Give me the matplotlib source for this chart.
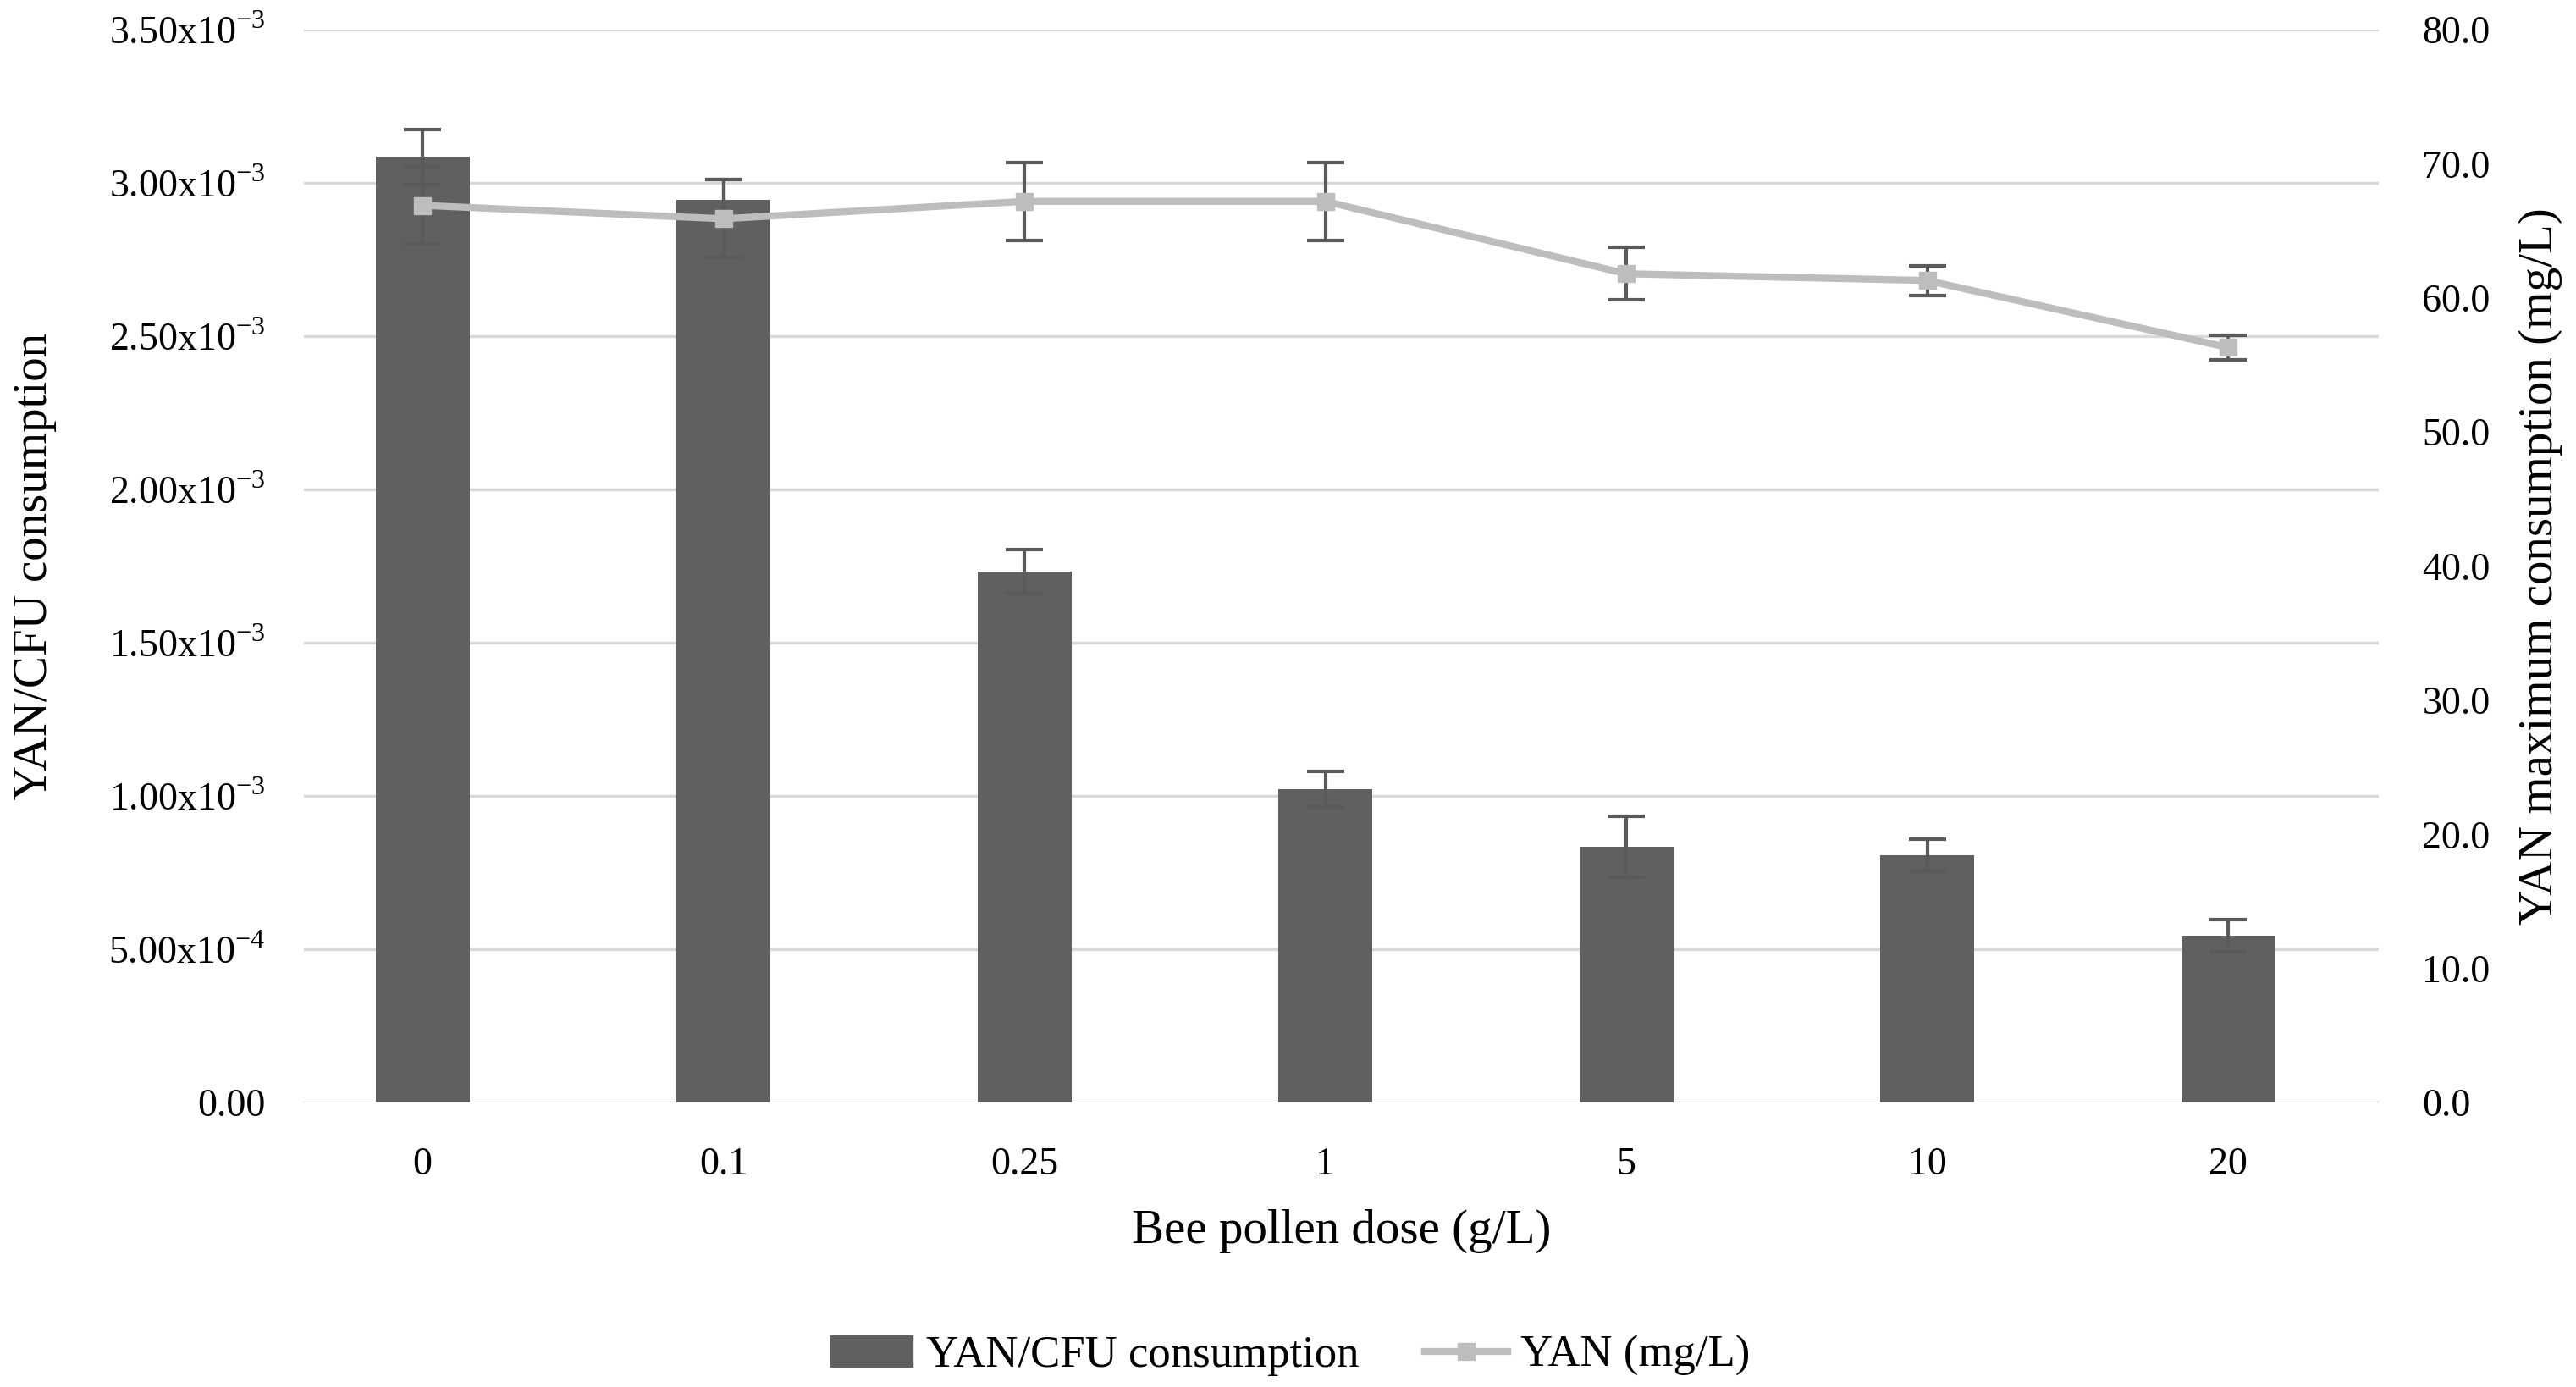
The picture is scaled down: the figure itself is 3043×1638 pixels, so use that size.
import numpy as np
import matplotlib.pyplot as plt
from matplotlib.lines import Line2D
from matplotlib.patches import Patch

plt.rcParams['font.family'] = ['Liberation Serif', 'DejaVu Serif']
plt.rcParams['mathtext.fontset'] = 'custom'
plt.rcParams['mathtext.rm'] = 'Liberation Serif'

# data
doses = ['0', '0.1', '0.25', '1', '5', '10', '20']
yan_cfu = [3.085e-3, 2.945e-3, 1.733e-3, 1.021e-3, 0.834e-3, 0.806e-3, 0.544e-3]
yan_cfu_err = [0.090e-3, 0.065e-3, 0.072e-3, 0.058e-3, 0.100e-3, 0.053e-3, 0.052e-3]
yan = [66.9, 65.9, 67.2, 67.2, 61.8, 61.3, 56.3]
yan_err = [2.9, 2.9, 2.9, 2.9, 1.95, 1.1, 0.9]

left_ticks = [0, 0.5e-3, 1.0e-3, 1.5e-3, 2.0e-3, 2.5e-3, 3.0e-3, 3.5e-3]
left_labels = ['0.00', r'5.00x10$^{-4}$', r'1.00x10$^{-3}$', r'1.50x10$^{-3}$',
               r'2.00x10$^{-3}$', r'2.50x10$^{-3}$', r'3.00x10$^{-3}$', r'3.50x10$^{-3}$']
right_ticks = [0, 10, 20, 30, 40, 50, 60, 70, 80]

bar_color = '#606060'
line_color = '#BDBDBD'
err_color = '#5A5A5A'
grid_color = '#D9D9D9'

fig = plt.figure(figsize=(30.43, 16.38), dpi=100)
ax = fig.add_axes([0.118, 0.2051, 0.8054, 0.7735])
x = np.arange(len(doses))

ax.bar(x, yan_cfu, width=0.313, color=bar_color, zorder=2,
       yerr=yan_cfu_err, error_kw=dict(ecolor=err_color, elinewidth=3, capsize=16, capthick=3))
ax.set_ylim(0, 3.5e-3)
ax.set_xlim(-0.394, 6.5)
ax.set_yticks(left_ticks)
ax.set_yticklabels(left_labels)
ax.set_xticks(x)
ax.set_xticklabels(doses)
ax.yaxis.grid(True, color=grid_color, linewidth=2.5)
ax.set_axisbelow(True)
ax.tick_params(length=0, labelsize=33, colors='black')
ax.tick_params(axis='x', pad=38)
ax.tick_params(axis='y', pad=33)
for s in ax.spines.values():
    s.set_visible(False)
ax.set_xlabel('Bee pollen dose (g/L)', fontsize=41, labelpad=22)
ax.set_ylabel('YAN/CFU consumption', fontsize=41, labelpad=44)

ax2 = ax.twinx()
ax2.errorbar(x, yan, yerr=yan_err, color=line_color, linewidth=6, marker='s', markersize=15,
             ecolor=err_color, elinewidth=3, capsize=16, capthick=3, zorder=3)
ax2.set_ylim(0, 80)
ax2.set_yticks(right_ticks)
ax2.set_yticklabels([f'{v:.1f}' for v in right_ticks])
ax2.tick_params(length=0, labelsize=33, pad=37)
for s in ax2.spines.values():
    s.set_visible(False)
ax2.set_ylabel('YAN maximum consumption (mg/L)', fontsize=41, labelpad=24)

handles = [Patch(color=bar_color),
           Line2D([], [], color=line_color, linewidth=6, marker='s', markersize=15)]
fig.legend(handles, ['YAN/CFU consumption', 'YAN (mg/L)'], loc='center', ncol=2,
           bbox_to_anchor=(0.501, 0.0225), frameon=False, fontsize=38, handlelength=1.84,
           columnspacing=1.47, handletextpad=0.3)

fig.savefig('out.png', dpi=100)
